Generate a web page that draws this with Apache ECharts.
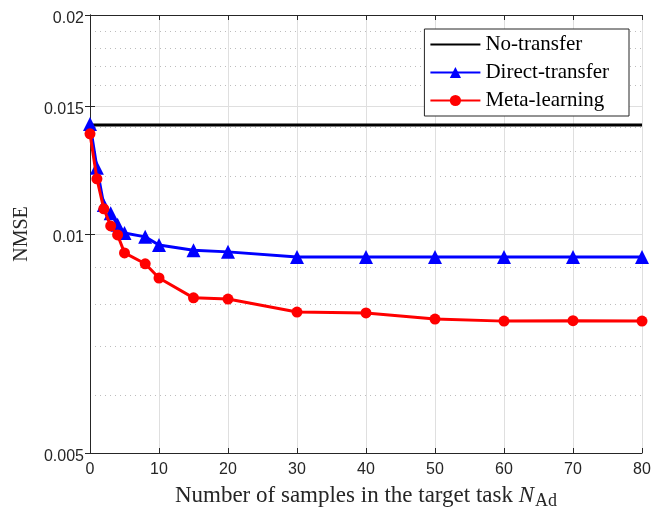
<!DOCTYPE html>
<html lang="en">
<head>
  <meta charset="UTF-8">
  <title>NMSE vs samples</title>
  <style>
    html, body { margin: 0; padding: 0; background: #fff; }
    #chart { width: 656px; height: 510px; }
  </style>
</head>
<body>
  <div id="chart"></div>
  <script src="https://cdn.jsdelivr.net/npm/echarts@6/dist/echarts.min.js"></script>
  <script>
    var samples = [0, 1, 2, 3, 4, 5, 8, 10, 15, 20, 30, 40, 50, 60, 70, 80]
    var directTransfer = [0.01417, 0.01233, 0.01096, 0.01068, 0.01030, 0.01003, 0.00991, 0.00966, 0.00950, 0.00945, 0.00930, 0.00930, 0.00930, 0.00930, 0.00930, 0.00930]
    var metaLearning = [0.01373, 0.01191, 0.01083, 0.01026, 0.00997, 0.00942, 0.00910, 0.00870, 0.00817, 0.00814, 0.00781, 0.00779, 0.00764, 0.00759, 0.00760, 0.00759]
    var noTransferX = [0, 80]
    var noTransfer = [0.01412, 0.01412]
    var yTicks = [0.005, 0.01, 0.015, 0.02]
    var yMinor = [0.006, 0.007, 0.008, 0.009, 0.011, 0.012, 0.013, 0.014, 0.016, 0.017, 0.018, 0.019]

    var axisColor = '#262626'
    var serif = '"Liberation Serif", "Times New Roman", serif'
    var sans = '"Liberation Sans", Arial, sans-serif'

    var pairs = function (xs, ys) {
      return xs.map(function (x, i) { return [x, ys[i]] })
    }

    var xBase = {
      type: 'value',
      min: 0,
      max: 80,
      interval: 10,
      axisLine: { lineStyle: { color: axisColor, width: 1 } },
      axisTick: { inside: true, length: 5, lineStyle: { color: axisColor } }
    }
    var yBase = {
      type: 'log',
      min: 0.005,
      max: 0.02,
      axisLine: { show: true, lineStyle: { color: axisColor, width: 1 } },
      axisTick: { show: true, inside: true, length: 5, customValues: yTicks, lineStyle: { color: axisColor } }
    }

    var option = {
      animation: false,
      grid: { left: 90, right: 14, top: 15, bottom: 57, outerBoundsMode: 'none', containLabel: false },
      legend: {
        right: 27,
        top: 29,
        orient: 'vertical',
        backgroundColor: '#fff',
        borderColor: axisColor,
        borderWidth: 1,
        padding: [5, 20, 5, 5],
        itemGap: 7,
        itemWidth: 50,
        itemHeight: 14,
        textStyle: { fontFamily: serif, fontSize: 21, color: '#000' },
        data: [
          { name: 'No-transfer', itemStyle: { opacity: 0 } },
          'Direct-transfer',
          'Meta-learning'
        ]
      },
      xAxis: [
        Object.assign({}, xBase, {
          position: 'bottom',
          name: '{a|Number of samples in the target task }{n|N}{s|Ad}',
          nameLocation: 'middle',
          nameGap: 28,
          nameTextStyle: {
            rich: {
              a: { fontFamily: serif, fontSize: 23, color: '#262626' },
              n: { fontFamily: serif, fontSize: 23, fontStyle: 'italic', color: '#262626' },
              s: { fontFamily: serif, fontSize: 18, color: '#262626', padding: [11, 0, 0, 1] }
            }
          },
          axisLabel: { fontFamily: sans, fontSize: 16, color: axisColor, margin: 9 },
          splitLine: { show: true, lineStyle: { color: '#dfdfdf', width: 1 } }
        }),
        Object.assign({}, xBase, {
          position: 'top',
          axisLabel: { show: false },
          splitLine: { show: false }
        })
      ],
      yAxis: [
        Object.assign({}, yBase, {
          position: 'left',
          name: 'NMSE',
          nameLocation: 'middle',
          nameGap: 58,
          nameTextStyle: { fontFamily: serif, fontSize: 20, color: '#262626' },
          axisLabel: {
            fontFamily: sans, fontSize: 16, color: axisColor, margin: 6,
            verticalAlign: 'top', lineHeight: 7, customValues: yTicks
          },
          splitLine: { show: true, lineStyle: { color: '#dfdfdf', width: 1 } },
          minorTick: { show: false },
          minorSplitLine: { show: false }
        }),
        Object.assign({}, yBase, {
          position: 'right',
          axisLabel: { show: false, customValues: yTicks },
          splitLine: { show: false }
        }),
        {
          type: 'log',
          min: 0.005,
          max: 0.02,
          position: 'left',
          axisLine: { show: false },
          axisLabel: { show: false, customValues: yMinor },
          axisTick: { show: false, customValues: yMinor },
          splitLine: { show: true, lineStyle: { color: '#bdbdbd', width: 1, type: [1, 4] } }
        }
      ],
      series: [
        {
          name: 'No-transfer',
          type: 'line',
          data: pairs(noTransferX, noTransfer),
          symbol: 'none',
          lineStyle: { color: '#000', width: 3 },
          itemStyle: { color: '#000' },
          z: 3
        },
        {
          name: 'Direct-transfer',
          type: 'line',
          data: pairs(samples, directTransfer),
          symbol: 'triangle',
          symbolSize: 14,
          lineStyle: { color: '#0000ff', width: 3 },
          itemStyle: { color: '#0000ff' },
          z: 4
        },
        {
          name: 'Meta-learning',
          type: 'line',
          data: pairs(samples, metaLearning),
          symbol: 'circle',
          symbolSize: 11,
          lineStyle: { color: '#ff0000', width: 3 },
          itemStyle: { color: '#ff0000' },
          z: 5
        }
      ]
    }

    var chart = echarts.init(document.getElementById('chart'))
    chart.setOption(option)
  </script>
</body>
</html>
